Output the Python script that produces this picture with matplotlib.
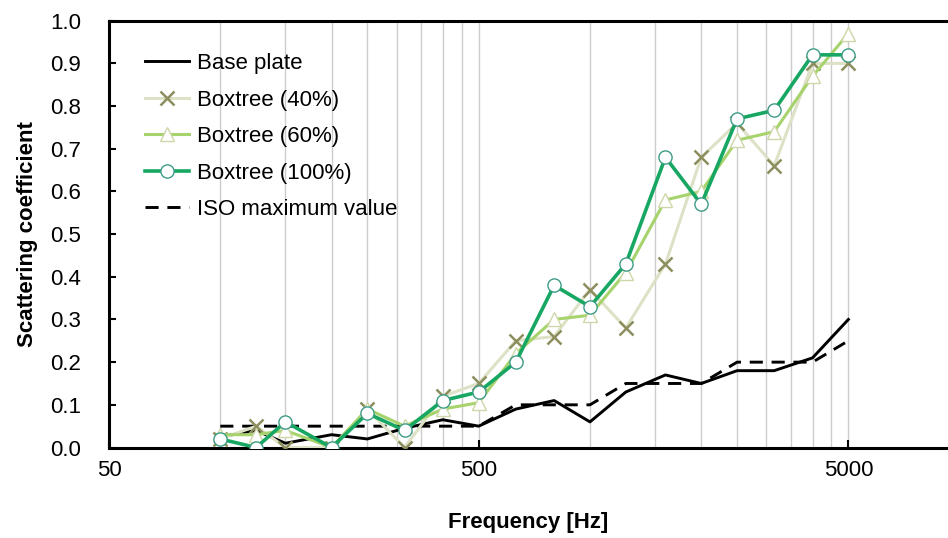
import numpy as np
import matplotlib
matplotlib.use('Agg')
import matplotlib.pyplot as plt
from matplotlib.ticker import FixedLocator, NullFormatter

plt.rcParams['font.family'] = ['Liberation Sans', 'DejaVu Sans']

# third-octave bands (third point sits on the 150 Hz grid line in the original)
freqs = [100, 125, 150, 200, 250, 315, 400, 500, 630, 800, 1000, 1250, 1600, 2000, 2500, 3150, 4000, 5000]

base_plate = [0.025, 0.04, 0.01, 0.03, 0.02, 0.045, 0.065, 0.05, 0.09, 0.11, 0.06, 0.13, 0.17, 0.15, 0.18, 0.18, 0.21, 0.30]
boxtree_40 = [0.02, 0.05, 0.0, 0.0, 0.09, 0.0, 0.12, 0.15, 0.25, 0.26, 0.37, 0.28, 0.43, 0.68, 0.76, 0.66, 0.90, 0.90]
boxtree_60 = [0.03, 0.03, 0.04, 0.0, 0.09, 0.05, 0.09, 0.105, 0.22, 0.30, 0.31, 0.41, 0.58, 0.60, 0.72, 0.74, 0.87, 0.97]
boxtree_100 = [0.02, 0.0, 0.06, 0.0, 0.08, 0.04, 0.11, 0.13, 0.20, 0.38, 0.33, 0.43, 0.68, 0.57, 0.77, 0.79, 0.92, 0.92]
iso_max = [0.05, 0.05, 0.05, 0.05, 0.05, 0.05, 0.05, 0.05, 0.10, 0.10, 0.10, 0.15, 0.15, 0.15, 0.20, 0.20, 0.20, 0.25]

W, H = 948, 538
fig = plt.figure(figsize=(W / 100, H / 100), dpi=100)
left, bottom, top = 109, 447.5, 20.7
ax = fig.add_axes([left / W, 1 - bottom / H, 1 - left / W, (bottom - top) / H])

ax.plot(freqs, base_plate, color='black', lw=2.1, label='Base plate', zorder=3)
ax.plot(freqs, boxtree_40, color='#dde1c6', lw=2.2, marker='x', ms=9.5, mew=1.8,
        mec='#8c8e5e', label='Boxtree (40%)', zorder=4)
ax.plot(freqs, boxtree_60, color='#a6d36c', lw=2.2, marker='^', ms=9.5, mew=1.0,
        mfc='white', mec='#cfd6a8', label='Boxtree (60%)', zorder=5)
ax.plot(freqs, boxtree_100, color='#17a763', lw=2.6, marker='o', ms=9.5, mew=1.0,
        mfc='white', mec='#3c9c86', label='Boxtree (100%)', zorder=6)
ax.plot(freqs, iso_max, color='black', lw=2.1, ls=(0, (4.5, 3)), label='ISO maximum value', zorder=3)

ax.set_xscale('log')
ax.set_xlim(50, 9300)
ax.set_ylim(0, 1.0)

ax.set_xticks([50, 500, 5000])
ax.set_xticklabels(['50', '500', '5000'])
grid_pos = [50 * k for k in range(2, 10)] + [500 * k for k in range(2, 10)] + [5000 * k for k in range(2, 10)]
ax.xaxis.set_minor_locator(FixedLocator(grid_pos))
ax.xaxis.set_minor_formatter(NullFormatter())
ax.grid(True, which='both', axis='x', color='#cccccc', lw=1.0)
ax.set_axisbelow(True)

ax.set_yticks(np.arange(0, 1.01, 0.1))
ax.set_yticklabels(['%.1f' % v for v in np.arange(0, 1.01, 0.1)])

ax.tick_params(axis='x', which='major', direction='in', length=6, width=1.5, pad=9, labelsize=16)
ax.tick_params(axis='x', which='minor', length=0)
ax.tick_params(axis='y', direction='in', length=5, width=1.5, pad=20, labelsize=16)

for s in ['left', 'bottom', 'top']:
    ax.spines[s].set_linewidth(2.2)
ax.spines['right'].set_visible(False)

ax.set_xlabel('Frequency [Hz]', fontsize=16, fontweight='bold', labelpad=22)
ax.set_ylabel('Scattering coefficient', fontsize=16, fontweight='bold', labelpad=9)

ax.legend(loc='upper left', bbox_to_anchor=(145 / W, 1 - 53 / H), bbox_transform=fig.transFigure,
          frameon=False, fontsize=16, handlelength=2.0, handletextpad=0.35,
          labelspacing=0.7, borderpad=0, borderaxespad=0)

fig.savefig('out.png', dpi=100)
